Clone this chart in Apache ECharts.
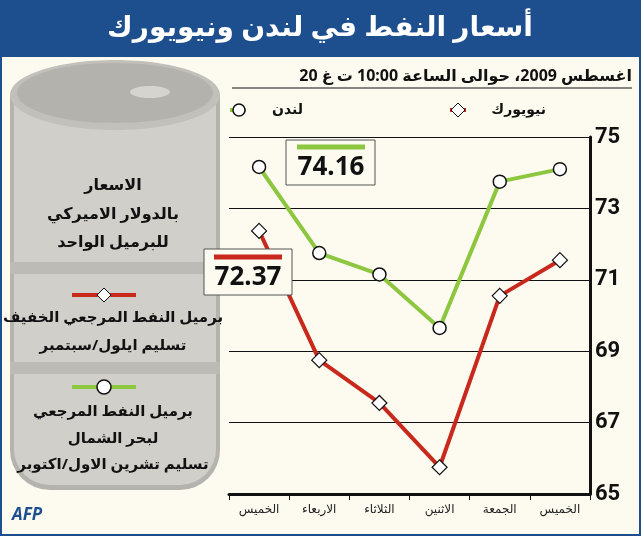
<!DOCTYPE html>
<html>
<head>
<meta charset="utf-8">
<script src="https://cdn.jsdelivr.net/npm/echarts@6/dist/echarts.min.js"></script>
<style>html,body{margin:0;padding:0;background:#fdfaf0;}#main{width:641px;height:536px;}</style>
</head>
<body>
<div id="main"></div>
<script>
// أيام التداول، من اليسار الى اليمين كما في الرسم
var days = ["الخميس", "الاربعاء", "الثلاثاء", "الاثنين", "الجمعة", "الخميس"];
var london = [74.16, 71.75, 71.15, 69.65, 73.75, 74.1];
var newyork = [72.37, 68.75, 67.55, 65.75, 70.55, 71.55];
var yTicks = [65, 67, 69, 71, 73, 75];

var ar = '"Noto Sans", "DejaVu Sans", sans-serif';
var green = '#8dc63f', red = '#c9291c';

function txt(x, y, s, size, bold, align, fill) {
  return {type: 'text', x: x, y: y, z: 20, style: {text: s, fontSize: size, fontFamily: ar,
    fontWeight: bold ? 'bold' : 'normal', fill: fill || '#111', align: align || 'center', verticalAlign: 'middle'}};
}

var chart = echarts.init(document.getElementById('main'));
var option = {
  backgroundColor: '#fdfaf0',
  animation: false,
  grid: {left: 229, right: 51, top: 137, bottom: 42},
  xAxis: {
    type: 'category', data: days, boundaryGap: true,
    axisLine: {lineStyle: {color: '#111', width: 3}},
    axisTick: {show: true, length: 6, lineStyle: {color: '#111', width: 1}},
    axisLabel: {color: '#222', fontSize: 12, fontFamily: ar, margin: 10}
  },
  yAxis: {
    type: 'value', position: 'right', min: 65, max: 75, interval: 2,
    axisLine: {show: true, lineStyle: {color: '#111', width: 3}},
    axisTick: {show: false},
    axisLabel: {color: '#111', fontSize: 22, fontWeight: 'bold', fontFamily: '"Roboto", "DejaVu Sans Condensed", sans-serif', margin: 5,
      formatter: function (v) { return yTicks.indexOf(v) >= 0 ? v : ''; }},
    splitLine: {lineStyle: {color: '#111', width: 1.2}}
  },
  series: [
    {name: 'لندن', type: 'line', data: london, symbol: 'circle', symbolSize: 13,
      lineStyle: {color: green, width: 4}, itemStyle: {color: '#fff', borderColor: '#111', borderWidth: 1.5}, z: 3},
    {name: 'نيويورك', type: 'line', data: newyork, symbol: 'diamond', symbolSize: 15,
      lineStyle: {color: red, width: 4}, itemStyle: {color: '#fff', borderColor: '#111', borderWidth: 1.2}, z: 3}
  ],
  graphic: [
    // شريط العنوان
    {type: 'rect', shape: {x: 0, y: 0, width: 641, height: 56}, style: {fill: '#1d4f8f'}},
    {type: 'rect', shape: {x: 1, y: 56, width: 639, height: 479}, style: {fill: 'none', stroke: '#1d4f8f', lineWidth: 2}},
    txt(320, 28, 'أسعار النفط في لندن ونيويورك', 28, true, 'center', '#fff'),
    txt(632, 76, '20 اغسطس 2009، حوالى الساعة 10:00 ت غ', 16, true, 'right'),
    {type: 'line', shape: {x1: 232, y1: 88, x2: 632, y2: 88}, style: {stroke: '#111', lineWidth: 1}},
    // مفتاح الالوان
    {type: 'line', shape: {x1: 450, y1: 110, x2: 466, y2: 110}, style: {stroke: red, lineWidth: 4}},
    {type: 'polygon', shape: {points: [[458, 103], [465, 110], [458, 117], [451, 110]]}, style: {fill: '#fff', stroke: '#111'}},
    txt(546, 110, 'نيويورك', 14, true, 'right'),
    {type: 'line', shape: {x1: 230, y1: 110, x2: 246, y2: 110}, style: {stroke: green, lineWidth: 4}},
    {type: 'circle', shape: {cx: 239, cy: 110, r: 6}, style: {fill: '#fff', stroke: '#111', lineWidth: 1.5}},
    txt(303, 110, 'لندن', 14, true, 'right'),
    // البرميل
    {type: 'rect', shape: {x: 10, y: 95, width: 210, height: 395, r: [0, 0, 40, 40]}, style: {fill: '#b5b3ad'}},
    {type: 'rect', shape: {x: 14, y: 95, width: 202, height: 390, r: [0, 0, 36, 36]}, style: {fill: '#d1cfc9'}},
    {type: 'ellipse', shape: {cx: 115, cy: 95, rx: 105, ry: 35}, style: {fill: '#c2c0ba'}},
    {type: 'ellipse', shape: {cx: 115, cy: 93, rx: 98, ry: 30}, style: {fill: '#b4b2ac'}},
    {type: 'ellipse', shape: {cx: 150, cy: 92, rx: 20, ry: 6}, style: {fill: '#d6d4ce'}},
    {type: 'rect', shape: {x: 10, y: 262, width: 210, height: 12}, style: {fill: '#bdbbb5'}},
    {type: 'rect', shape: {x: 10, y: 362, width: 210, height: 12}, style: {fill: '#bdbbb5'}},
    txt(113, 185, 'الاسعار', 16, true),
    txt(113, 214, 'بالدولار الاميركي', 16, true),
    txt(113, 242, 'للبرميل الواحد', 16, true),
    {type: 'line', shape: {x1: 72, y1: 295, x2: 136, y2: 295}, style: {stroke: red, lineWidth: 4}},
    {type: 'polygon', shape: {points: [[104, 288], [111, 295], [104, 302], [97, 295]]}, style: {fill: '#fff', stroke: '#111'}},
    txt(113, 318, 'برميل النفط المرجعي الخفيف', 15, true),
    txt(113, 346, 'تسليم ايلول/سبتمبر', 15, true),
    {type: 'line', shape: {x1: 72, y1: 387, x2: 136, y2: 387}, style: {stroke: green, lineWidth: 4}},
    {type: 'circle', shape: {cx: 104, cy: 387, r: 7}, style: {fill: '#fff', stroke: '#111', lineWidth: 1.5}},
    txt(113, 412, 'برميل النفط المرجعي', 15, true),
    txt(113, 439, 'لبحر الشمال', 15, true),
    txt(113, 465, 'تسليم تشرين الاول/اكتوبر', 15, true),
    // صناديق القيم
    {type: 'rect', z: 10, shape: {x: 286, y: 140, width: 89, height: 45}, style: {fill: '#fdfaf0', stroke: '#555', lineWidth: 1}},
    {type: 'line', z: 11, shape: {x1: 297, y1: 147, x2: 365, y2: 147}, style: {stroke: green, lineWidth: 5}},
    txt(331, 168, String(london[0]), 26, true),
    {type: 'rect', z: 10, shape: {x: 204, y: 249, width: 88, height: 46}, style: {fill: '#fdfaf0', stroke: '#555', lineWidth: 1}},
    {type: 'line', z: 11, shape: {x1: 214, y1: 257, x2: 282, y2: 257}, style: {stroke: red, lineWidth: 5}},
    txt(248, 278, String(newyork[0]), 26, true),
    // AFP
    {type: 'text', x: 12, y: 507, style: {text: 'AFP', fontSize: 17, fontWeight: 'bold', fontStyle: 'italic', fontFamily: ar, fill: '#1d4f8f'}}
  ]
};
chart.setOption(option);
</script>
</body>
</html>
